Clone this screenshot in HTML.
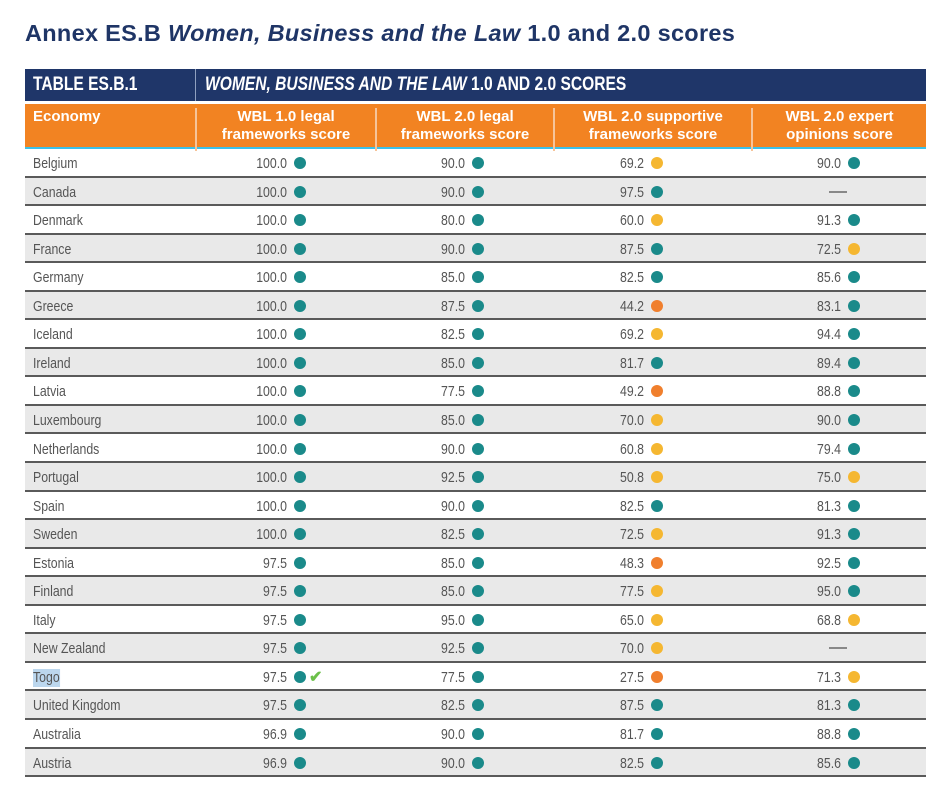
<!DOCTYPE html>
<html><head><meta charset="utf-8"><style>
body{margin:0;width:940px;height:789px;background:#fff;position:relative;overflow:hidden;font-family:"Liberation Sans",sans-serif;}
.title{position:absolute;left:25px;top:20px;font-weight:bold;font-size:23.5px;color:#1f3566;white-space:nowrap;letter-spacing:0.3px}
.title i{font-style:italic}
.nav{position:absolute;left:25px;top:69px;width:901px;height:32px;background:#1f3669;color:#fff;font-size:19px;font-weight:bold;}
.nav span{position:absolute;top:0;line-height:32px;transform:scaleX(.82);transform-origin:left center;white-space:nowrap}
.org{position:absolute;left:25px;top:104px;width:901px;height:43px;background:#f28322;border-bottom:2px solid #3cc1e8;color:#fff;font-weight:bold;font-size:15px;}
.org div{position:absolute;top:4px;text-align:center;line-height:18px}
.vs{position:absolute;top:0;width:2px;height:100%;background:#f6c49a}
.r{position:absolute;left:25px;width:901px;height:28.55px;box-sizing:border-box;border-bottom:2px solid #5a5a5a;font-size:15px;color:#555;}
.g{background:#e9e9e9}
.r b{position:absolute;left:8px;top:0;line-height:30px;font-weight:normal;transform:scaleX(.82);transform-origin:left center;white-space:nowrap}
.r i{position:absolute;top:0;line-height:30px;width:60px;text-align:right;font-style:normal;transform:scaleX(.82);transform-origin:right center}
.v1{left:202px}.v2{left:380px}.v3{left:559px}.v4{left:756px}
.r u{position:absolute;top:8px;width:12px;height:12px;border-radius:50%}
.d1{left:269px}.d2{left:447px}.d3{left:626px}.d4{left:823px}
.t{background:#1a8a8a}.y{background:#f5b731}.o{background:#f07f2d}
.dash{position:absolute;left:804px;top:13px;width:18px;height:2px;background:#888}
</style></head><body>
<div class="title">Annex ES.B <i>Women, Business and the Law</i> 1.0 and 2.0 scores</div>
<div class="nav"><span style="left:8px">TABLE ES.B.1</span><div class="vs" style="left:170px;background:#8fa0c0;width:1px"></div><span style="left:180px"><i>WOMEN, BUSINESS AND THE LAW</i> 1.0 AND 2.0 SCORES</span></div>
<div class="org">
<div style="left:8px;text-align:left">Economy</div>
<div class="vs" style="left:170px"></div>
<div style="left:172px;width:178px">WBL 1.0 legal<br>frameworks score</div>
<div class="vs" style="left:350px"></div>
<div style="left:352px;width:176px">WBL 2.0 legal<br>frameworks score</div>
<div class="vs" style="left:528px"></div>
<div style="left:530px;width:196px">WBL 2.0 supportive<br>frameworks score</div>
<div class="vs" style="left:726px"></div>
<div style="left:728px;width:173px">WBL 2.0 expert<br>opinions score</div>
</div>

<div class="r" style="top:149px"><b>Belgium</b><i class="v1">100.0</i><u class="d1 t"></u><i class="v2">90.0</i><u class="d2 t"></u><i class="v3">69.2</i><u class="d3 y"></u><i class="v4">90.0</i><u class="d4 t"></u></div>
<div class="r g" style="top:177.5px"><b>Canada</b><i class="v1">100.0</i><u class="d1 t"></u><i class="v2">90.0</i><u class="d2 t"></u><i class="v3">97.5</i><u class="d3 t"></u><span class="dash"></span></div>
<div class="r" style="top:206.1px"><b>Denmark</b><i class="v1">100.0</i><u class="d1 t"></u><i class="v2">80.0</i><u class="d2 t"></u><i class="v3">60.0</i><u class="d3 y"></u><i class="v4">91.3</i><u class="d4 t"></u></div>
<div class="r g" style="top:234.6px"><b>France</b><i class="v1">100.0</i><u class="d1 t"></u><i class="v2">90.0</i><u class="d2 t"></u><i class="v3">87.5</i><u class="d3 t"></u><i class="v4">72.5</i><u class="d4 y"></u></div>
<div class="r" style="top:263.2px"><b>Germany</b><i class="v1">100.0</i><u class="d1 t"></u><i class="v2">85.0</i><u class="d2 t"></u><i class="v3">82.5</i><u class="d3 t"></u><i class="v4">85.6</i><u class="d4 t"></u></div>
<div class="r g" style="top:291.7px"><b>Greece</b><i class="v1">100.0</i><u class="d1 t"></u><i class="v2">87.5</i><u class="d2 t"></u><i class="v3">44.2</i><u class="d3 o"></u><i class="v4">83.1</i><u class="d4 t"></u></div>
<div class="r" style="top:320.3px"><b>Iceland</b><i class="v1">100.0</i><u class="d1 t"></u><i class="v2">82.5</i><u class="d2 t"></u><i class="v3">69.2</i><u class="d3 y"></u><i class="v4">94.4</i><u class="d4 t"></u></div>
<div class="r g" style="top:348.8px"><b>Ireland</b><i class="v1">100.0</i><u class="d1 t"></u><i class="v2">85.0</i><u class="d2 t"></u><i class="v3">81.7</i><u class="d3 t"></u><i class="v4">89.4</i><u class="d4 t"></u></div>
<div class="r" style="top:377.4px"><b>Latvia</b><i class="v1">100.0</i><u class="d1 t"></u><i class="v2">77.5</i><u class="d2 t"></u><i class="v3">49.2</i><u class="d3 o"></u><i class="v4">88.8</i><u class="d4 t"></u></div>
<div class="r g" style="top:405.9px"><b>Luxembourg</b><i class="v1">100.0</i><u class="d1 t"></u><i class="v2">85.0</i><u class="d2 t"></u><i class="v3">70.0</i><u class="d3 y"></u><i class="v4">90.0</i><u class="d4 t"></u></div>
<div class="r" style="top:434.5px"><b>Netherlands</b><i class="v1">100.0</i><u class="d1 t"></u><i class="v2">90.0</i><u class="d2 t"></u><i class="v3">60.8</i><u class="d3 y"></u><i class="v4">79.4</i><u class="d4 t"></u></div>
<div class="r g" style="top:463px"><b>Portugal</b><i class="v1">100.0</i><u class="d1 t"></u><i class="v2">92.5</i><u class="d2 t"></u><i class="v3">50.8</i><u class="d3 y"></u><i class="v4">75.0</i><u class="d4 y"></u></div>
<div class="r" style="top:491.6px"><b>Spain</b><i class="v1">100.0</i><u class="d1 t"></u><i class="v2">90.0</i><u class="d2 t"></u><i class="v3">82.5</i><u class="d3 t"></u><i class="v4">81.3</i><u class="d4 t"></u></div>
<div class="r g" style="top:520.1px"><b>Sweden</b><i class="v1">100.0</i><u class="d1 t"></u><i class="v2">82.5</i><u class="d2 t"></u><i class="v3">72.5</i><u class="d3 y"></u><i class="v4">91.3</i><u class="d4 t"></u></div>
<div class="r" style="top:548.7px"><b>Estonia</b><i class="v1">97.5</i><u class="d1 t"></u><i class="v2">85.0</i><u class="d2 t"></u><i class="v3">48.3</i><u class="d3 o"></u><i class="v4">92.5</i><u class="d4 t"></u></div>
<div class="r g" style="top:577.2px"><b>Finland</b><i class="v1">97.5</i><u class="d1 t"></u><i class="v2">85.0</i><u class="d2 t"></u><i class="v3">77.5</i><u class="d3 y"></u><i class="v4">95.0</i><u class="d4 t"></u></div>
<div class="r" style="top:605.8px"><b>Italy</b><i class="v1">97.5</i><u class="d1 t"></u><i class="v2">95.0</i><u class="d2 t"></u><i class="v3">65.0</i><u class="d3 y"></u><i class="v4">68.8</i><u class="d4 y"></u></div>
<div class="r g" style="top:634.3px"><b>New Zealand</b><i class="v1">97.5</i><u class="d1 t"></u><i class="v2">92.5</i><u class="d2 t"></u><i class="v3">70.0</i><u class="d3 y"></u><span class="dash"></span></div>
<div class="r" style="top:662.9px"><b style="background:#bcd7ee;line-height:18px;top:6px">Togo</b><i class="v1">97.5</i><u class="d1 t"></u><span style="position:absolute;left:284px;top:1px;line-height:27px;color:#6cc04a;font-size:16px;font-weight:bold">✔</span><i class="v2">77.5</i><u class="d2 t"></u><i class="v3">27.5</i><u class="d3 o"></u><i class="v4">71.3</i><u class="d4 y"></u></div>
<div class="r g" style="top:691.4px"><b>United Kingdom</b><i class="v1">97.5</i><u class="d1 t"></u><i class="v2">82.5</i><u class="d2 t"></u><i class="v3">87.5</i><u class="d3 t"></u><i class="v4">81.3</i><u class="d4 t"></u></div>
<div class="r" style="top:720px"><b>Australia</b><i class="v1">96.9</i><u class="d1 t"></u><i class="v2">90.0</i><u class="d2 t"></u><i class="v3">81.7</i><u class="d3 t"></u><i class="v4">88.8</i><u class="d4 t"></u></div>
<div class="r g" style="top:748.5px"><b>Austria</b><i class="v1">96.9</i><u class="d1 t"></u><i class="v2">90.0</i><u class="d2 t"></u><i class="v3">82.5</i><u class="d3 t"></u><i class="v4">85.6</i><u class="d4 t"></u></div>
</body></html>
